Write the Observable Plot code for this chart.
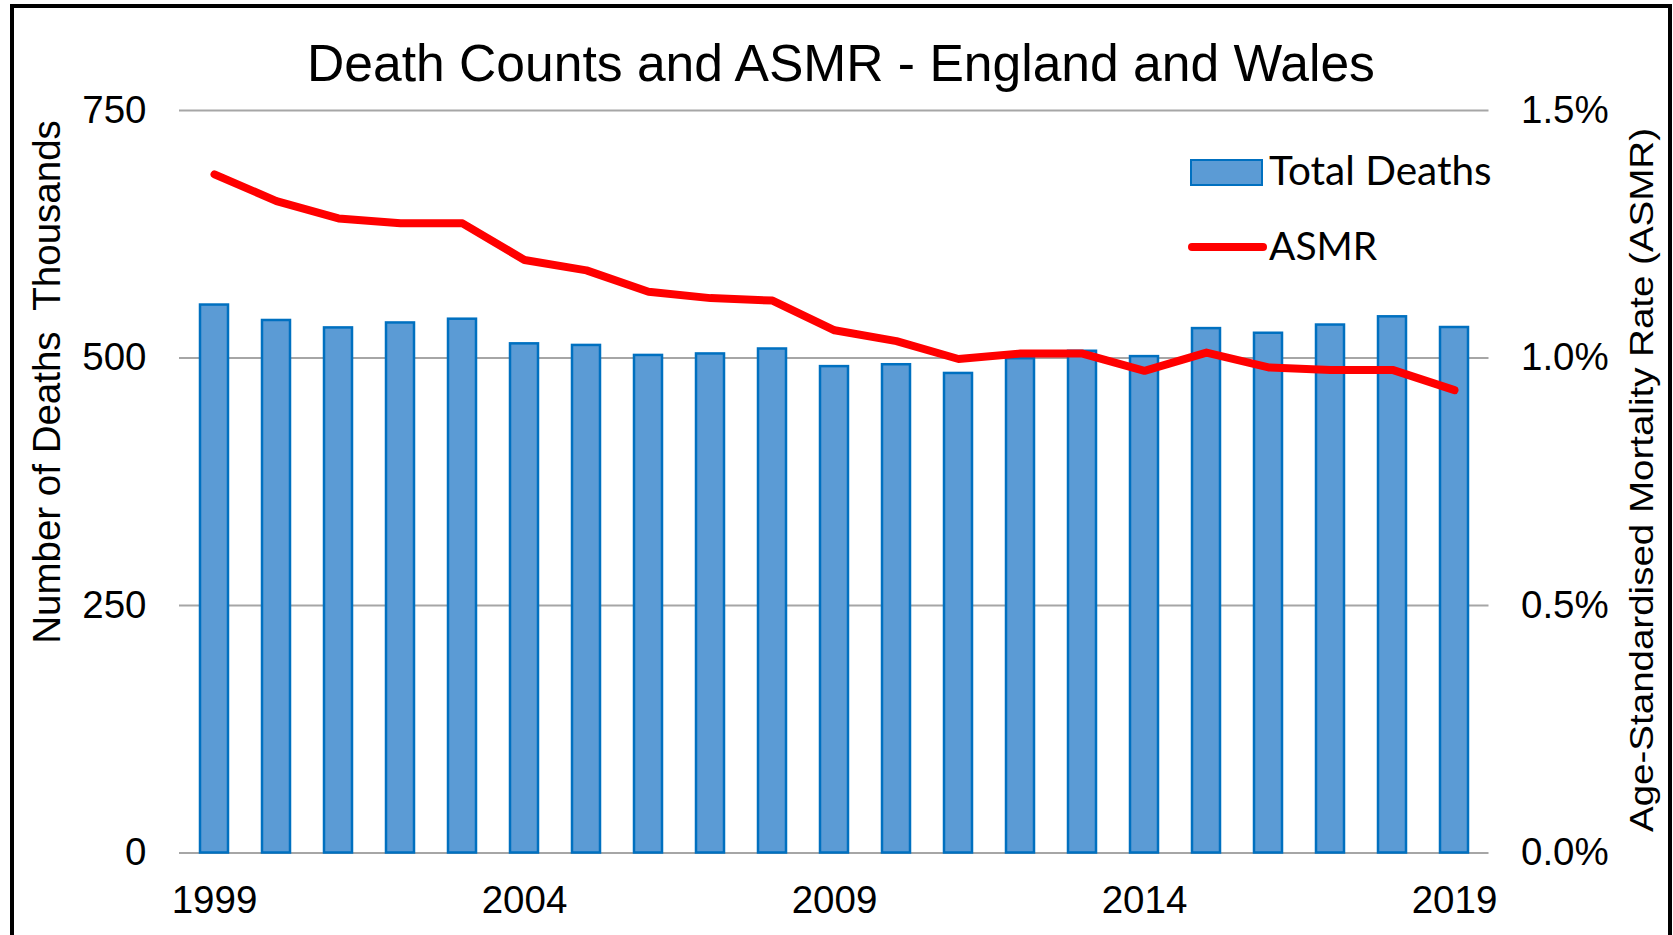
<!DOCTYPE html>
<html><head><meta charset="utf-8">
<script src="https://cdn.jsdelivr.net/npm/d3@7"></script>
<script src="https://cdn.jsdelivr.net/npm/@observablehq/plot@0.6"></script>
<style>
html,body{margin:0;padding:0;background:#fff;overflow:hidden;}
#wrap{position:relative;width:1673px;height:935px;overflow:hidden;font-family:"Liberation Sans",Arial,sans-serif;color:#000;background:#fff;}
#frame{position:absolute;left:10px;top:4px;width:1654px;height:1000px;border:4px solid #000;pointer-events:none;}
#chart{position:absolute;left:0;top:0;}
.t{position:absolute;white-space:pre;line-height:1;}
#title{left:841px;top:38px;font-size:51.6px;transform:translateX(-50%);}
#ylab{left:47px;top:382px;font-size:38.5px;transform:translate(-50%,-50%) rotate(-90deg);}
#ylab2{left:1642px;top:480px;font-size:38.5px;transform:translate(-50%,-50%) rotate(-90deg) scale(1,0.84);}
.leg{font-family:Lato,"Open Sans",sans-serif;font-size:40.5px;}
#sw1{position:absolute;left:1190px;top:159px;width:73px;height:27px;box-sizing:border-box;background:#5B9BD5;border:2.5px solid #0070C0;}
#sw2{position:absolute;left:1188px;top:243px;width:79px;height:8px;border-radius:4px;background:#FF0000;}
#lt1{left:1269px;top:150px;}
#lt2{left:1269px;top:226px;font-size:39px;}
</style></head><body>
<div id="wrap">
  <div id="chart"></div>
  <div class="t" id="title">Death Counts and ASMR - England and Wales</div>
  <div class="t" id="ylab">Number of Deaths  Thousands</div>
  <div class="t" id="ylab2">Age-Standardised Mortality Rate (ASMR)</div>
  <div id="sw1"></div><div class="t leg" id="lt1">Total Deaths</div>
  <div id="sw2"></div><div class="t leg" id="lt2">ASMR</div>
  <div id="frame"></div>
</div>
<script>
// Data
const years = ["1999","2000","2001","2002","2003","2004","2005","2006","2007","2008","2009","2010","2011","2012","2013","2014","2015","2016","2017","2018","2019"];
// Total deaths, thousands
const deaths = [553.5, 537.9, 530.4, 535.4, 539.2, 514.3, 512.7, 502.6, 504.1, 509.1, 491.3, 493.2, 484.4, 499.3, 506.8, 501.4, 529.7, 525.0, 533.3, 541.6, 530.8];
// Age-standardised mortality rate, percent
const asmr = [1.371, 1.317, 1.282, 1.272, 1.272, 1.198, 1.177, 1.134, 1.121, 1.116, 1.056, 1.034, 0.998, 1.009, 1.009, 0.974, 1.011, 0.981, 0.976, 0.976, 0.935];
// Axis ticks
const leftTicks = [0, 250, 500, 750];
const rightTicks = [0, 0.5, 1.0, 1.5];
const xTickLabels = ["1999","2004","2009","2014","2019"];

// right axis (percent) mapped onto left axis (thousands): 1.5% <-> 750
const ratio = leftTicks[leftTicks.length-1] / rightTicks[rightTicks.length-1];

const data = years.map((y, i) => ({year: y, deaths: deaths[i], asmr: asmr[i]}));

const chart = Plot.plot({
  width: 1673,
  height: 935,
  marginTop: 110,
  marginBottom: 82.5,
  marginLeft: 179,
  marginRight: 184.5,
  style: {fontFamily: '"Liberation Sans", Arial, sans-serif', color: "#000", background: "transparent", overflow: "visible"},
  x: {type: "band", domain: years, paddingInner: 0.55, paddingOuter: 0.26, label: null},
  y: {domain: [0, 750], label: null},
  marks: [
    Plot.gridY(leftTicks, {stroke: "#a6a6a6", strokeOpacity: 1, strokeWidth: 2}),
    Plot.barY(data, {x: "year", y: "deaths", fill: "#5B9BD5", stroke: "#0070C0", strokeWidth: 2.5}),
    Plot.line(data, {x: "year", y: d => d.asmr * ratio, stroke: "#FF0000", strokeWidth: 8, strokeLinejoin: "round", strokeLinecap: "round"}),
    Plot.axisY(leftTicks, {anchor: "left", tickSize: 0, tickPadding: 33, fontSize: 38.5, label: null}),
    Plot.axisY(rightTicks.map(d => d * ratio), {anchor: "right", tickSize: 0, tickPadding: 32, fontSize: 38.5, label: null,
      tickFormat: d => (d / ratio).toFixed(1) + "%"}),
    Plot.axisX(xTickLabels, {anchor: "bottom", tickSize: 0, tickPadding: 32.5, fontSize: 38.5, label: null})
  ]
});
document.getElementById("chart").appendChild(chart);
</script>
</body></html>
